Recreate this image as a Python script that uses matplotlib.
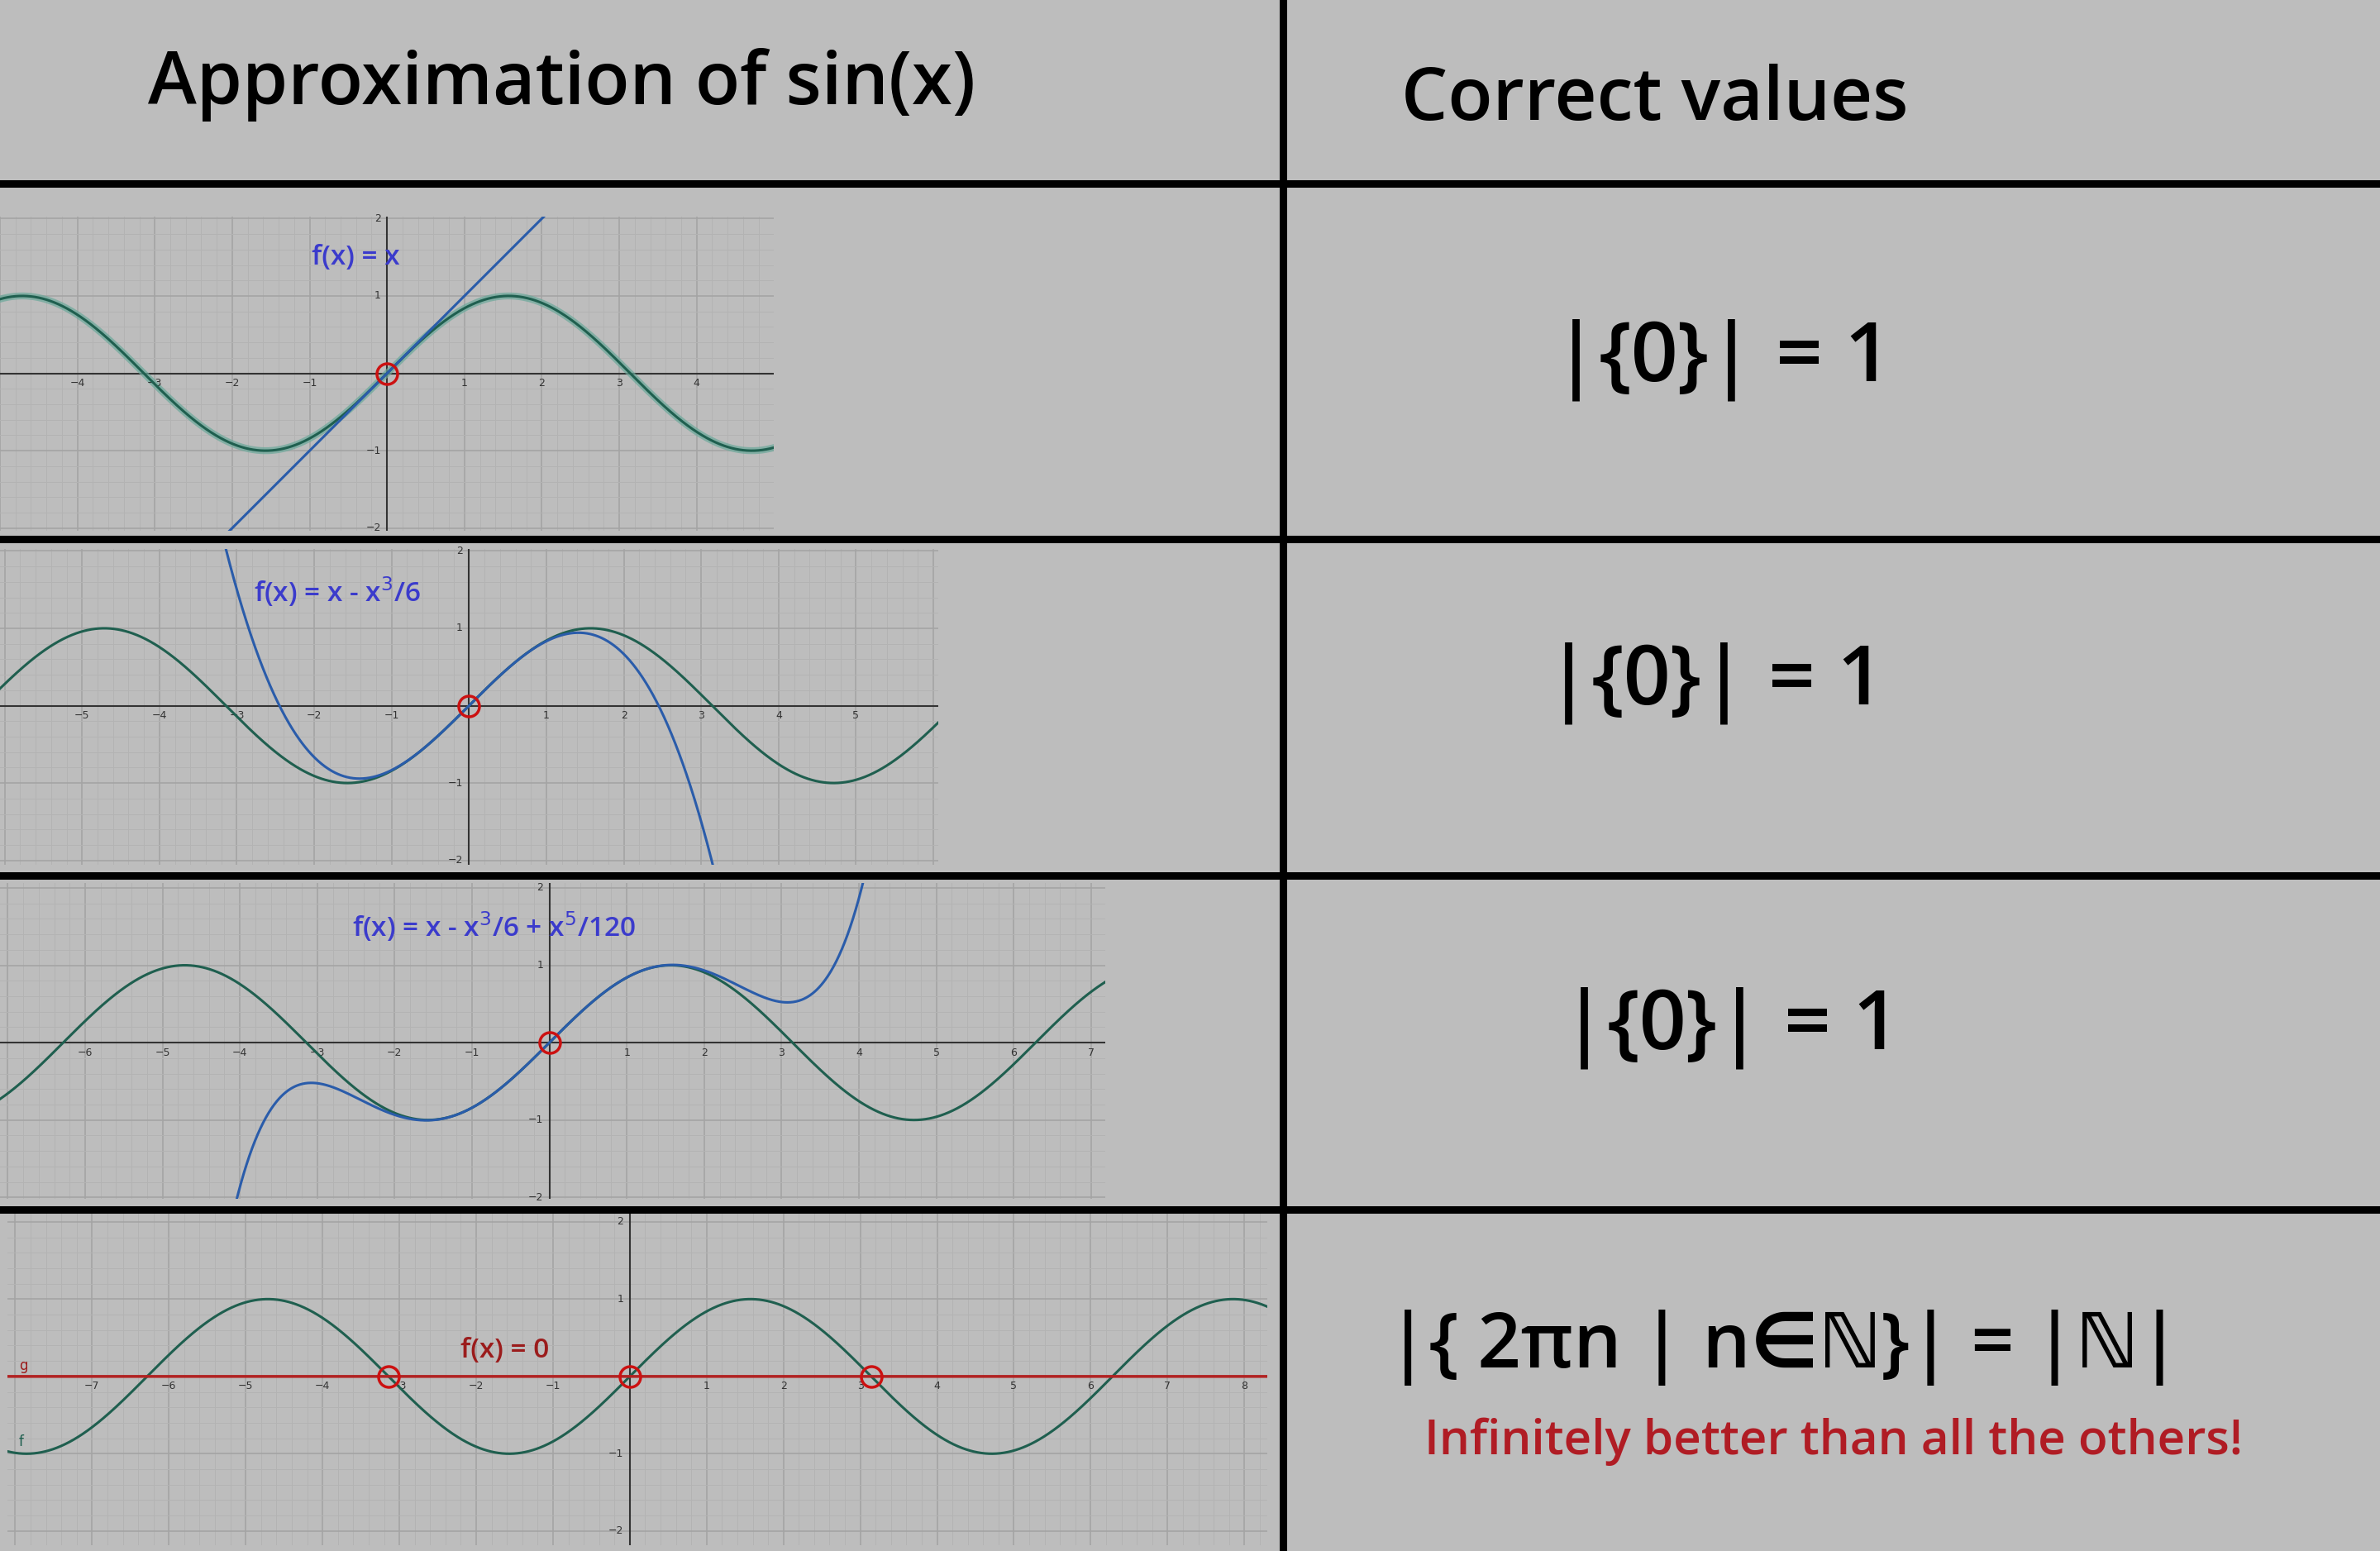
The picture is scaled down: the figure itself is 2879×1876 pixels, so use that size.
import numpy as np
import matplotlib
matplotlib.use("Agg")
import matplotlib.pyplot as plt

W, H = 1568, 1022
BG = "#bdbdbd"
FONT = ["Open Sans", "DejaVu Sans"]

title_left = "Approximation of sin(x)"
title_right = "Correct values"
panel_labels = ["f(x) = x", "f(x) = x - x$^3$/6", "f(x) = x - x$^3$/6 + x$^5$/120", "f(x) = 0"]
taylor_coefs = [[1], [1, -1/6], [1, -1/6, 1/120], []]   # coefficients of x, x^3, x^5
zeros = [[0], [0], [0], [-np.pi, 0, np.pi]]
right_texts = ["|{0}| = 1", "|{0}| = 1", "|{0}| = 1", "|{ 2πn | n∈ℕ}| = |ℕ|"]
note_text = "Infinitely better than all the others!"

rects = [(0, 143, 510, 350), (0, 362, 618, 570), (0, 582, 728, 790), (5, 800, 835, 1018)]
xlims = [(-5, 5), (-6.06, 6.06), (-7.1, 7.18), (-8.1, 8.3)]
ylims = [(-2.04, 2.02), (-2.06, 2.02), (-2.02, 2.06), (-2.18, 2.1)]
label_pos = [(-0.97, 1.5), (-2.78, 1.47), (-2.55, 1.5), (-2.2, 0.33)]

fig = plt.figure(figsize=(28.79, 18.76), dpi=100)
fig.patch.set_facecolor(BG)

def fx(x): return x / W
def fy(y): return 1 - y / H

lw = 6.5
for y in [121, 355, 577, 797]:
    fig.add_artist(plt.Line2D([0, 1], [fy(y), fy(y)], color="black", lw=lw, transform=fig.transFigure))
fig.add_artist(plt.Line2D([fx(845), fx(845)], [0, 1], color="black", lw=lw, transform=fig.transFigure))

fig.text(fx(370), fy(56), title_left, fontsize=64, family=FONT, fontweight="semibold", ha="center", va="center")
fig.text(fx(1090), fy(66), title_right, fontsize=64, family=FONT, fontweight="semibold", ha="center", va="center")
rt_y = [237, 450, 677, 888]
rt_x = [1135, 1130, 1140, 1175]
rt_fs = [72, 72, 72, 66]
for t, x, y, fs in zip(right_texts, rt_x, rt_y, rt_fs):
    fig.text(fx(x), fy(y), t, fontsize=fs, family=FONT, fontweight="semibold", ha="center", va="center")
fig.text(fx(1208), fy(950), note_text, fontsize=42, family=FONT, ha="center", va="center",
         color="#b01c24", fontweight="semibold")

for i, (r, xl, yl) in enumerate(zip(rects, xlims, ylims)):
    x0, y0, x1, y1 = r
    ax = fig.add_axes([fx(x0), fy(y1), fx(x1) - fx(x0), fy(y0) - fy(y1)])
    ax.set_facecolor(BG)
    ax.set_xlim(*xl); ax.set_ylim(*yl)
    for s in ax.spines.values():
        s.set_visible(False)
    ax.set_xticks([]); ax.set_yticks([])
    for v in np.arange(np.ceil(xl[0] * 5) / 5, xl[1], 0.2):
        major = abs(v - round(v)) < 1e-6
        ax.axvline(v, color="#a4a4a4" if major else "#b3b3b3", lw=1.2 if major else 0.7, zorder=0)
    for v in np.arange(np.ceil(yl[0] * 5) / 5, yl[1], 0.2):
        major = abs(v - round(v)) < 1e-6
        ax.axhline(v, color="#a4a4a4" if major else "#b3b3b3", lw=1.2 if major else 0.7, zorder=0)
    ax.axhline(0, color="#333333", lw=1.5, zorder=1)
    ax.axvline(0, color="#333333", lw=1.5, zorder=1)
    for k in range(int(np.ceil(xl[0])), int(np.floor(xl[1])) + 1):
        if k != 0 and k - xl[0] > 0.12 and xl[1] - k > 0.12:
            ax.text(k, -0.06, "\u2212%d" % -k if k < 0 else str(k), fontsize=9, ha="center", va="top", color="#333333")
    for k in [-2, -1, 1, 2]:
        ax.text(-0.08, k, "\u2212%d" % -k if k < 0 else str(k), fontsize=9, ha="right", va="center", color="#333333")
    xs = np.linspace(xl[0], xl[1], 2000)
    if i == 0:
        ax.plot(xs, np.sin(xs), color="#6aa89a", lw=6, alpha=0.7, zorder=2)
    ax.plot(xs, np.sin(xs), color="#1f5f4f", lw=2.2, zorder=3)
    c = taylor_coefs[i]
    if c:
        ys = sum(a * xs ** (2 * j + 1) for j, a in enumerate(c))
        ys = np.where((ys > yl[1] + 1) | (ys < yl[0] - 1), np.nan, ys)
        ax.plot(xs, ys, color="#2a5caa", lw=2.2, zorder=4)
        col = "#3b3bcc"
    else:
        ax.plot(xs, 0 * xs, color="#b22222", lw=2.5, zorder=4)
        col = "#9b1c1c"
        ax.text(xl[0] + 0.15, 0.08, "g", color="#9b1c1c", fontsize=12)
        ax.text(xl[0] + 0.15, -0.9, "f", color="#1f5f4f", fontsize=12)
    ax.plot(zeros[i], [0] * len(zeros[i]), "o", mfc="none", mec="#cc1111", ms=18, mew=2.5, zorder=5)
    ax.text(label_pos[i][0], label_pos[i][1], panel_labels[i], color=col, fontsize=24, family=FONT,
            fontweight="semibold", ha="left", va="center", zorder=6)

fig.savefig("out.png", dpi=100, facecolor=BG)
